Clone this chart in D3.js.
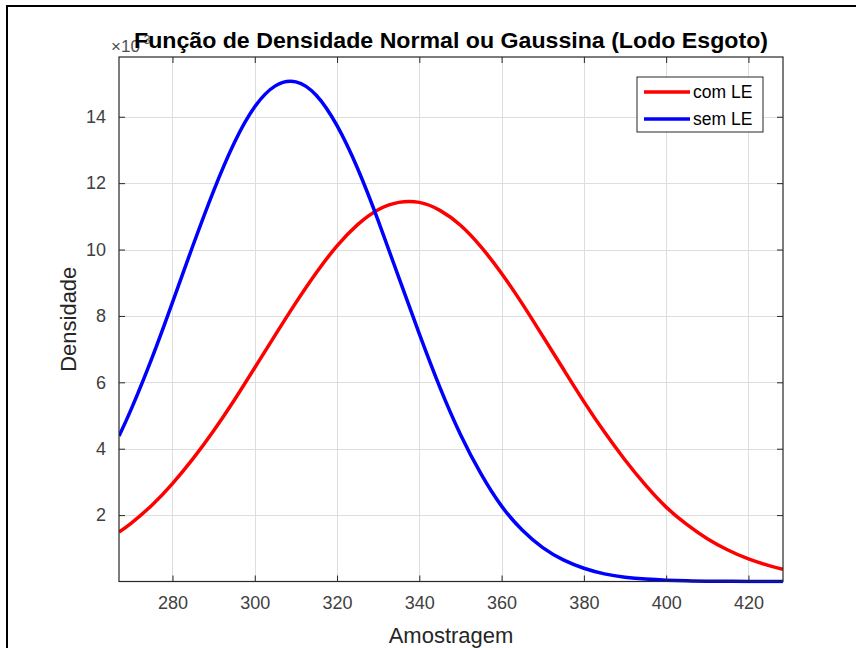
<!DOCTYPE html>
<html>
<head>
<meta charset="utf-8">
<script src="https://cdn.jsdelivr.net/npm/d3@7"></script>
<style>
  html, body { margin: 0; padding: 0; background: #fff; }
  svg { display: block; font-family: "Liberation Sans", Arial, Helvetica, sans-serif; }
</style>
</head>
<body>
<svg id="chart" width="856" height="648"></svg>
<script>
// ---- data (density values in units of 10^-3) ----
const xValues = [267, 270, 275, 280, 285, 290, 295, 300, 305, 310, 315, 320, 325, 330, 335, 340, 345, 350, 355, 360, 365, 370, 375, 380, 385, 390, 395, 400, 405, 410, 415, 420, 425, 428.4];
const comLE = [1.49, 1.76, 2.30, 2.95, 3.70, 4.54, 5.46, 6.44, 7.43, 8.40, 9.31, 10.11, 10.75, 11.20, 11.42, 11.42, 11.18, 10.73, 10.08, 9.28, 8.37, 7.39, 6.40, 5.42, 4.50, 3.66, 2.90, 2.24, 1.72, 1.29, 0.95, 0.68, 0.48, 0.37];
const semLE = [4.38, 5.20, 6.73, 8.41, 10.13, 11.77, 13.21, 14.30, 14.93, 15.05, 14.64, 13.73, 12.44, 10.87, 9.16, 7.46, 5.85, 4.43, 3.24, 2.27, 1.55, 1.02, 0.65, 0.40, 0.23, 0.13, 0.073, 0.039, 0.020, 0.010, 0.005, 0.002, 0.001, 0.0005];
const seriesNames = ["com LE", "sem LE"];
const seriesColors = ["#ff0000", "#0000ff"];
const xTicks = [280, 300, 320, 340, 360, 380, 400, 420];
const yTicks = [2, 4, 6, 8, 10, 12, 14];
const xDomain = [267, 428.4];
const yDomain = [0, 15.8];
const titleText = "Função de Densidade Normal ou Gaussina (Lodo Esgoto)";
const xLabel = "Amostragem";
const yLabel = "Densidade";

// ---- layout ----
const svg = d3.select("#chart");
const L = 119, T = 57, R = 783, B = 581.5;
const axisColor = "#262626";

// outer figure frame
svg.append("rect").attr("x", 7).attr("y", 6).attr("width", 860).attr("height", 660)
  .attr("fill", "#fff").attr("stroke", "#000").attr("stroke-width", 2);

const x = d3.scaleLinear().domain(xDomain).range([L, R]);
const y = d3.scaleLinear().domain(yDomain).range([B, T]);

// grid
const grid = svg.append("g");
grid.selectAll(".gx").data(xTicks).join("line")
  .attr("x1", d => Math.round(x(d)) + 0.5).attr("x2", d => Math.round(x(d)) + 0.5)
  .attr("y1", T).attr("y2", B).attr("stroke", "#dedede").attr("stroke-width", 1);
grid.selectAll(".gy").data(yTicks).join("line")
  .attr("y1", d => Math.round(y(d)) + 0.5).attr("y2", d => Math.round(y(d)) + 0.5)
  .attr("x1", L).attr("x2", R).attr("stroke", "#dedede").attr("stroke-width", 1);

// curves
const data = [comLE, semLE];
const line = d3.line().x((d, i) => x(xValues[i])).y(d => y(d)).curve(d3.curveNatural);
svg.append("clipPath").attr("id", "clip").append("rect")
  .attr("x", L).attr("y", T).attr("width", R - L).attr("height", B - T + 2);
svg.append("g").attr("clip-path", "url(#clip)")
  .selectAll("path").data(data).join("path")
  .attr("d", d => line(d)).attr("fill", "none")
  .attr("stroke", (d, i) => seriesColors[i]).attr("stroke-width", 3.5)
  .attr("stroke-linejoin", "round");

// axes (MATLAB style: ticks inside, on all four sides)
const tickLen = 6;
const xAxisB = d3.axisBottom(x).tickValues(xTicks).tickSize(-tickLen).tickPadding(15).tickFormat(d3.format("d"));
const xAxisT = d3.axisTop(x).tickValues(xTicks).tickSize(-tickLen).tickFormat("");
const yAxisL = d3.axisLeft(y).tickValues(yTicks).tickSize(-tickLen).tickPadding(13).tickFormat(d3.format("d"));
const yAxisR = d3.axisRight(y).tickValues(yTicks).tickSize(-tickLen).tickFormat("");

function style(g) {
  g.select(".domain").remove();
  g.selectAll("line").attr("stroke", axisColor);
  g.selectAll("text").attr("fill", "#404040").attr("font-size", 18)
    .attr("font-family", "Liberation Sans, Arial, sans-serif");
}
svg.append("g").attr("transform", `translate(0,${B})`).call(xAxisB).call(style);
svg.append("g").attr("transform", `translate(0,${T})`).call(xAxisT).call(style);
svg.append("g").attr("transform", `translate(${L},0)`).call(yAxisL).call(style);
svg.append("g").attr("transform", `translate(${R},0)`).call(yAxisR).call(style);

// axes box
svg.append("rect").attr("x", L).attr("y", T).attr("width", R - L).attr("height", B - T)
  .attr("fill", "none").attr("stroke", axisColor).attr("stroke-width", 1.2);

// exponent label
const ex = svg.append("text").attr("x", 111).attr("y", 52).attr("fill", "#505050").attr("font-size", 17);
ex.append("tspan").text("×10");
ex.append("tspan").attr("dy", -8).attr("font-size", 12).text("-3");

// title
svg.append("text").attr("x", (L + R) / 2).attr("y", 48).attr("text-anchor", "middle")
  .attr("font-weight", "bold").attr("font-size", 22).attr("fill", "#000")
  .attr("textLength", 634).attr("lengthAdjust", "spacingAndGlyphs").text(titleText);

// axis labels
svg.append("text").attr("x", (L + R) / 2).attr("y", 643).attr("text-anchor", "middle")
  .attr("font-size", 22).attr("fill", "#262626").text(xLabel);
svg.append("text").attr("transform", `translate(76,${(T + B) / 2}) rotate(-90)`)
  .attr("text-anchor", "middle").attr("font-size", 22).attr("fill", "#262626").text(yLabel);

// legend
const lg = svg.append("g").attr("transform", "translate(637,77)");
lg.append("rect").attr("x", 0).attr("y", 0).attr("width", 126).attr("height", 55)
  .attr("fill", "#fff").attr("stroke", axisColor).attr("stroke-width", 1);
seriesNames.forEach((name, i) => {
  const yy = 15 + i * 27;
  lg.append("line").attr("x1", 7).attr("x2", 53).attr("y1", yy).attr("y2", yy)
    .attr("stroke", seriesColors[i]).attr("stroke-width", 3.5);
  lg.append("text").attr("x", 56).attr("y", yy + 6).attr("font-size", 17.5)
    .attr("fill", "#000").text(name);
});
</script>
</body>
</html>
